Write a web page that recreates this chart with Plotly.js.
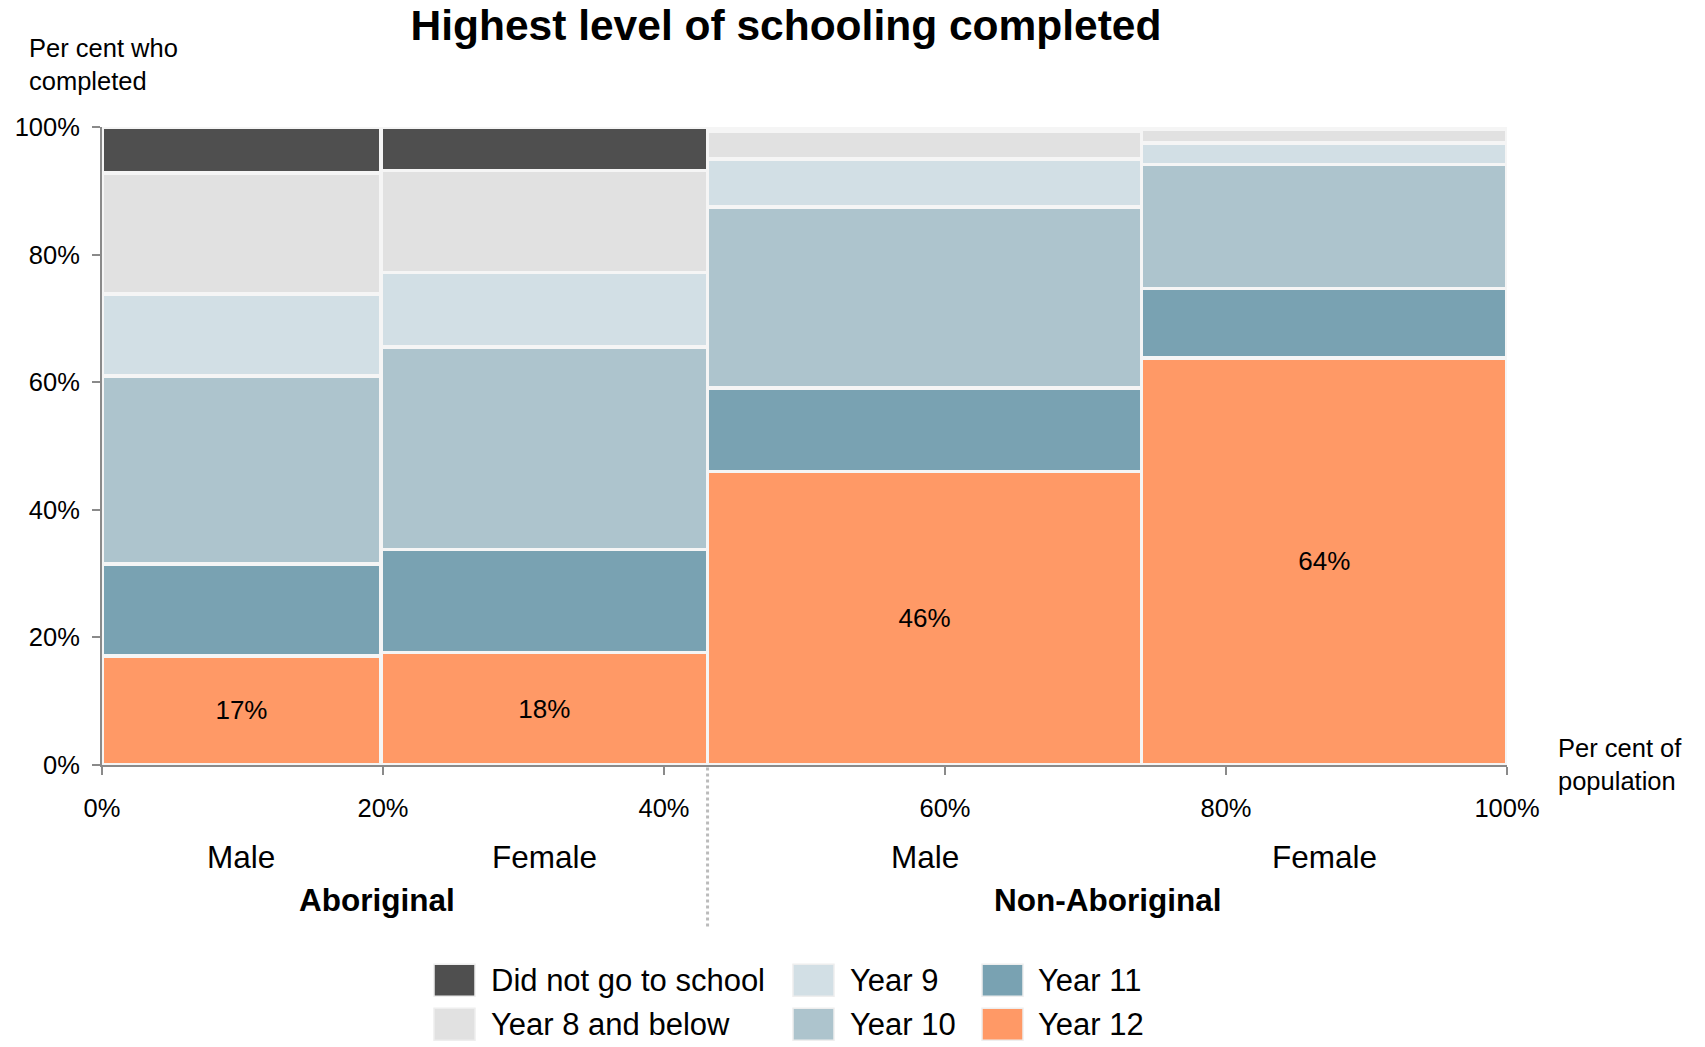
<!DOCTYPE html>
<html>
<head>
<meta charset="utf-8">
<script src="https://cdn.plot.ly/plotly-3.0.1.min.js"></script>
<style>html,body{margin:0;padding:0;background:#fff;}#chart{width:1705px;height:1047px;}</style>
</head>
<body>
<div id="chart"></div>
<script>
// ---- data ----
const columns = ["Male", "Female", "Male", "Female"];
const groups = ["Aboriginal", "Non-Aboriginal"];
const columnWidths = [19.85, 23.25, 30.9, 26.0]; // per cent of population
const levels = ["Did not go to school", "Year 8 and below", "Year 9", "Year 10", "Year 11", "Year 12"];
const year12 = [17.1, 17.6, 46.0, 63.8];
const year11 = [14.4, 16.2, 13.1, 10.9];
const year10 = [29.5, 31.7, 28.4, 19.4];
const year9 = [12.8, 11.7, 7.5, 3.4];
const year8 = [19.0, 16.0, 4.4, 2.1];
const didNotGo = [7.2, 6.8, 0, 0];
const colors = ["#4f4f4f", "#e1e1e1", "#d2dfe5", "#adc4cd", "#79a2b2", "#ff9966"];

// ---- geometry helpers ----
const W = 1705, H = 1047;
const L = 102, R = 198, T = 127, B = 281.5;
const pw = W - L - R, ph = H - T - B;
const px2x = p => (p - L) / pw;
const py2y = p => (H - B - p) / ph;

const starts = [];
let acc = 0;
columnWidths.forEach(w => { starts.push(acc); acc += w; });
const centers = columnWidths.map((w, i) => starts[i] + w / 2);

const stack = [year12, year11, year10, year9, year8, didNotGo];
const stackNames = [levels[5], levels[4], levels[3], levels[2], levels[1], levels[0]];
const stackColors = [colors[5], colors[4], colors[3], colors[2], colors[1], colors[0]];
const FONT = "Liberation Sans, Arial, sans-serif";

const traces = stack.map((vals, k) => ({
  type: "bar",
  name: stackNames[k],
  x: centers,
  y: vals,
  width: columnWidths,
  marker: { color: stackColors[k], line: { color: "#f5f5f5", width: 3.5 } },
  text: k === 0 ? vals.map(v => Math.round(v) + "%") : undefined,
  textposition: k === 0 ? "inside" : "none",
  insidetextanchor: "middle",
  textfont: { family: FONT, size: 26, color: "#000" },
  showlegend: false,
  hovertemplate: "%{y:.1f}%<extra>" + stackNames[k] + "</extra>"
}));

const annotations = [];
const shapes = [];

// y axis title
annotations.push({ xref: "paper", yref: "paper", x: px2x(27), y: py2y(64.5), xanchor: "left", yanchor: "middle",
  align: "left", showarrow: false, text: "Per cent who<br>completed", font: { family: FONT, size: 25.5, color: "#000" } });
// x axis title
annotations.push({ xref: "paper", yref: "paper", x: px2x(1556), y: py2y(765), xanchor: "left", yanchor: "middle",
  align: "left", showarrow: false, text: "Per cent of<br>population", font: { family: FONT, size: 25.5, color: "#000" } });
// column labels
columns.forEach((c, i) => annotations.push({ xref: "x", yref: "paper", x: centers[i], y: py2y(858), xanchor: "center",
  yanchor: "middle", showarrow: false, text: c, font: { family: FONT, size: 31.5, color: "#000" } }));
// group labels
const groupSplit = starts[2];
annotations.push({ xref: "x", yref: "paper", x: 19.6, y: py2y(901), xanchor: "center", yanchor: "middle",
  showarrow: false, text: "<b>" + groups[0] + "</b>", font: { family: FONT, size: 31.5, color: "#000" } });
annotations.push({ xref: "x", yref: "paper", x: (groupSplit + 100) / 2, y: py2y(901), xanchor: "center", yanchor: "middle",
  showarrow: false, text: "<b>" + groups[1] + "</b>", font: { family: FONT, size: 31.5, color: "#000" } });
// separator
shapes.push({ type: "line", xref: "x", yref: "paper", x0: groupSplit, x1: groupSplit, y0: py2y(768), y1: py2y(930),
  line: { color: "#bbbbbb", width: 3, dash: "dot" } });

// legend (3 columns x 2 rows)
const legCols = [[434, 489], [793, 848], [982, 1036]];
const legRows = [981, 1025];
levels.forEach((lv, i) => {
  const c = Math.floor(i / 2), r = i % 2;
  const [sx, tx] = legCols[c];
  const cy = legRows[r];
  shapes.push({ type: "rect", xref: "paper", yref: "paper", x0: px2x(sx), x1: px2x(sx + 41), y0: py2y(cy - 16), y1: py2y(cy + 16),
    fillcolor: colors[i], line: { color: "#eeeeee", width: 1.5 } });
  annotations.push({ xref: "paper", yref: "paper", x: px2x(tx), y: py2y(cy), xanchor: "left", yanchor: "middle",
    showarrow: false, text: lv, font: { family: FONT, size: 31, color: "#000" } });
});

const layout = {
  width: W, height: H,
  margin: { l: L, r: R, t: T, b: B, pad: 0 },
  paper_bgcolor: "#ffffff",
  plot_bgcolor: "#f5f5f5",
  barmode: "stack",
  bargap: 0,
  title: { text: "<b>Highest level of schooling completed</b>", font: { family: FONT, size: 42.5, color: "#000" },
    xref: "container", yref: "container", x: 786 / W, y: 1 - 25 / H, xanchor: "center", yanchor: "middle" },
  xaxis: { range: [0, 100], tickmode: "linear", tick0: 0, dtick: 20, ticksuffix: "%", showgrid: false, zeroline: false,
    showline: true, linecolor: "#8a8a8a", linewidth: 2, ticks: "outside", ticklen: 8, tickwidth: 2, tickcolor: "#8a8a8a",
    tickfont: { family: FONT, size: 25.5, color: "#000" }, ticklabelstandoff: 11, fixedrange: true },
  yaxis: { range: [0, 100], tickmode: "linear", tick0: 0, dtick: 20, ticksuffix: "%", showgrid: false, zeroline: false,
    showline: true, linecolor: "#8a8a8a", linewidth: 2, ticks: "outside", ticklen: 8, tickwidth: 2, tickcolor: "#8a8a8a",
    tickfont: { family: FONT, size: 25.5, color: "#000" }, ticklabelstandoff: 7, fixedrange: true },
  showlegend: false,
  annotations: annotations,
  shapes: shapes,
  font: { family: FONT, color: "#000" }
};

Plotly.newPlot("chart", traces, layout, { displayModeBar: false, staticPlot: true });
</script>
</body>
</html>
